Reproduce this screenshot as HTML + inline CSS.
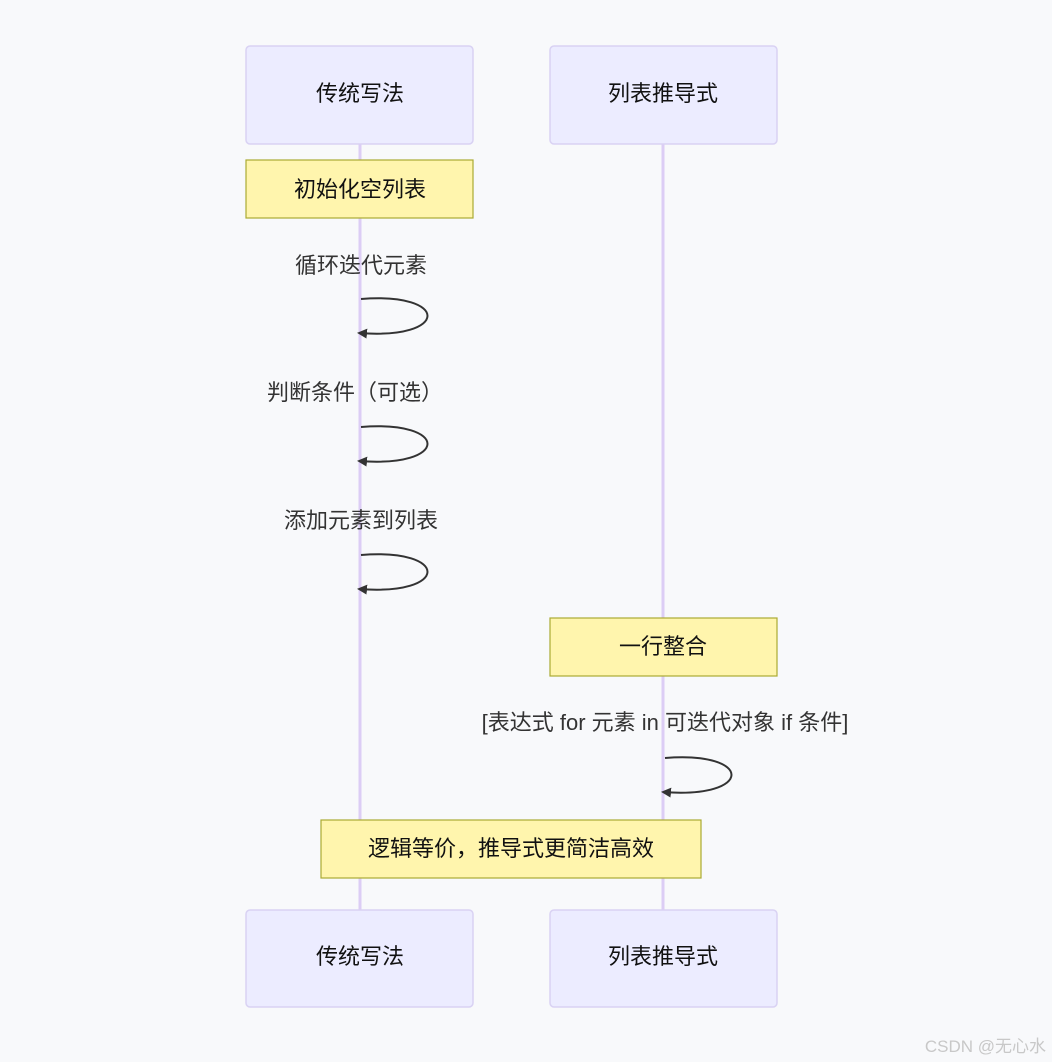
<!DOCTYPE html>
<html><head><meta charset="utf-8"><style>
html,body{margin:0;padding:0;background:#f8f9fb;}
svg{display:block}
text{font-family:"Liberation Sans","Noto Sans CJK SC",sans-serif;}
</style></head><body>
<svg width="1052" height="1062" viewBox="0 0 1052 1062">
<rect width="1052" height="1062" fill="#f8f9fb"/>
<line x1="360" y1="144" x2="360" y2="910" stroke="#dccdf5" stroke-width="3"/>
<line x1="663" y1="144" x2="663" y2="910" stroke="#dccdf5" stroke-width="3"/>
<g fill="#ececff" stroke="#d9d2f3" stroke-width="1.5">
<rect x="246" y="46" width="227" height="98" rx="4"/>
<rect x="550" y="46" width="227" height="98" rx="4"/>
<rect x="246" y="910" width="227" height="97" rx="4"/>
<rect x="550" y="910" width="227" height="97" rx="4"/>
</g>
<g font-size="22" fill="#111" text-anchor="middle">
<text x="360" y="95" dominant-baseline="middle">传统写法</text>
<text x="663" y="95" dominant-baseline="middle">列表推导式</text>
<text x="360" y="958" dominant-baseline="middle">传统写法</text>
<text x="663" y="958" dominant-baseline="middle">列表推导式</text>
</g>
<g fill="#fff5ad" stroke="#aaaa33" stroke-width="1.2">
<rect x="246" y="160" width="227" height="58"/>
<rect x="550" y="618" width="227" height="58"/>
<rect x="321" y="820" width="380" height="58"/>
</g>
<g font-size="22" fill="#111" text-anchor="middle">
<text x="360" y="191" dominant-baseline="middle">初始化空列表</text>
<text x="663" y="648" dominant-baseline="middle">一行整合</text>
<text x="511" y="850" dominant-baseline="middle">逻辑等价，推导式更简洁高效</text>
</g>
<g font-size="22" fill="#333" text-anchor="middle">
<text x="361" y="273">循环迭代元素</text>
<text x="355" y="400">判断条件（可选）</text>
<text x="361" y="528">添加元素到列表</text>
<text x="665" y="730">[表达式 for 元素 in 可迭代对象 if 条件]</text>
</g>
<defs><marker id="a" markerWidth="10" markerHeight="10" refX="8" refY="5" orient="auto" markerUnits="userSpaceOnUse"><path d="M0,0 L10,5 L0,10 z" fill="#333"/></marker></defs>
<g fill="none" stroke="#333" stroke-width="2">
<path d="M361,299 C450,292 450,340 359,333" marker-end="url(#a)"/>
<path d="M361,427 C450,420 450,468 359,461" marker-end="url(#a)"/>
<path d="M361,555 C450,548 450,596 359,589" marker-end="url(#a)"/>
<path d="M665,758 C754,751 754,799 663,792" marker-end="url(#a)"/>
</g>
<text x="1046" y="1052" font-size="17" fill="#c8c8c8" text-anchor="end">CSDN @无心水</text>
</svg>
</body></html>
